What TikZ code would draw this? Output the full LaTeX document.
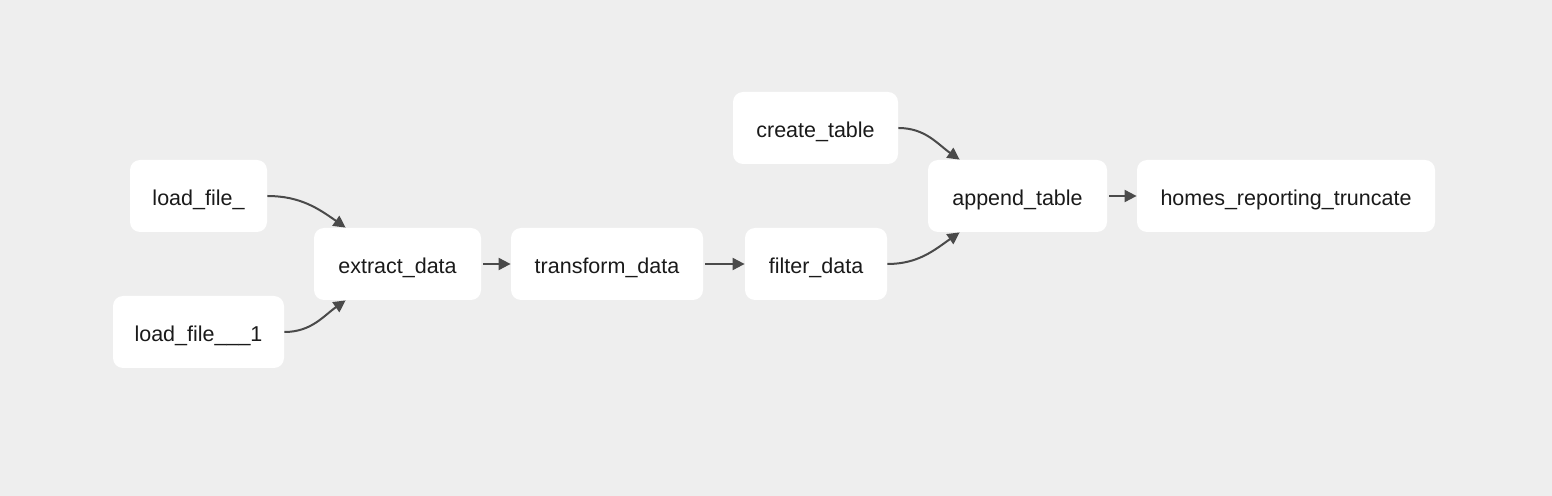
\documentclass[tikz,border=0pt]{standalone}
\usepackage{fontspec}
\setmainfont{Liberation Sans}
\usetikzlibrary{arrows.meta}
\definecolor{bgcol}{HTML}{EEEEEE}
\definecolor{edgecol}{HTML}{4A4A4A}
\definecolor{txtcol}{HTML}{1A1A1A}

\begin{document}
\begin{tikzpicture}[x=0.5pt, y=-0.5pt,
        task/.style={fill=white, rounded corners=5pt, minimum height=36pt, inner sep=0pt, text height=10.5pt, text depth=0.8pt, text=txtcol, font=\fontsize{10.75}{13}\selectfont},
        flow/.style={draw=edgecol, line width=1pt, -{Triangle[length=6pt,width=6pt]}}]
        \fill [bgcol] (0,0) rectangle (1552,496);
        \node [task, minimum width=68.5pt] (loadA) at (198.5,196) {load\_file\_};
        \node [task, minimum width=85.5pt] (loadB) at (198.5,332) {load\_file\_\_\_1};
        \node [task, minimum width=83.5pt] (extract) at (397.5,264) {extract\_data};
        \node [task, minimum width=96pt] (transform) at (607,264) {transform\_data};
        \node [task, minimum width=71pt] (filter) at (816,264) {filter\_data};
        \node [task, minimum width=82.5pt] (create) at (815.5,128) {create\_table};
        \node [task, minimum width=89.5pt] (append) at (1017.5,196) {append\_table};
        \node [task, minimum width=149pt] (homes) at (1286,196) {homes\_reporting\_truncate};
        \draw [flow] (loadA.east) to [out=0, in=145] ([xshift=16pt]extract.north west);
        \draw [flow] (loadB.east) to [out=0, in=215] ([xshift=16pt]extract.south west);
        \draw [flow, shorten <=1pt] (extract) -- (transform);
        \draw [flow, shorten <=1pt] (transform) -- (filter);
        \draw [flow] (create.east) to [out=0, in=145] ([xshift=16pt]append.north west);
        \draw [flow] (filter.east) to [out=0, in=215] ([xshift=16pt]append.south west);
        \draw [flow, shorten <=1pt] (append) -- (homes);
    \end{tikzpicture}
\end{document}
